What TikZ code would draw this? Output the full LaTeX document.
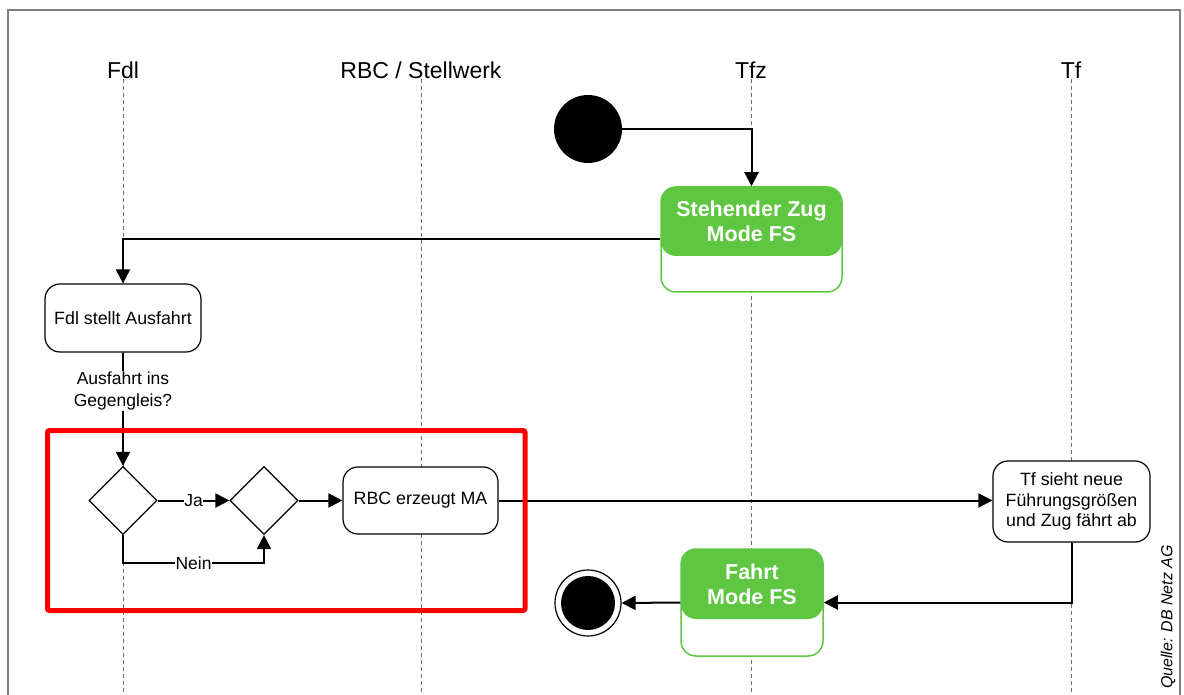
\documentclass[tikz,border=0pt]{standalone}
\usepackage{fontspec}
\setmainfont{Liberation Sans}
\usetikzlibrary{arrows.meta,shapes.geometric,calc}
\definecolor{umlgreen}{HTML}{5EC640}
\definecolor{framegray}{HTML}{7F7F7F}
\definecolor{lanegray}{HTML}{6E6E6E}
\tikzset{
  conn/.style={draw=black, line width=2pt},
  arr/.style={conn, -{Triangle[length=14pt,width=14pt]}},
  lane/.style={draw=lanegray, line width=1pt, dash pattern=on 4pt off 3pt},
  lanelbl/.style={font=\fontsize{23}{27}\selectfont, inner sep=0pt, anchor=base},
  actbox/.style={draw, line width=1.2pt, rounded corners=15pt, fill=white, align=center,
    font=\fontsize{17.8}{20.5}\selectfont, inner sep=0pt},
  decision/.style={diamond, draw, line width=1.2pt, fill=white, inner sep=0pt,
    minimum width=68pt, minimum height=68pt},
  lbl/.style={fill=white, inner sep=1pt, font=\fontsize{17.5}{21.5}\selectfont, align=center},
  statebox/.style={draw=umlgreen, line width=1.5pt, rounded corners=15pt, fill=white, inner sep=0pt},
  statetxt/.style={text=white, font=\bfseries\fontsize{21.5}{25}\selectfont, align=center, inner sep=0pt},
}
\begin{document}
\begin{tikzpicture}[x=1pt, y=-1pt]
\useasboundingbox (0,0) rectangle (1184,695);
% frame
\draw[framegray, line width=2pt] (8,705) -- (8,10) -- (1180,10) -- (1180,705);

% lanes
\node[lanelbl] (lFdl) at (123,79) {Fdl};
\node[lanelbl] (lRBC) at (421,79) {RBC / Stellwerk};
\node[lanelbl] (lTfz) at (751,79) {Tfz};
\node[lanelbl] (lTf)  at (1071,79) {Tf};
\coordinate (bFdl) at (123,695);
\coordinate (bRBC) at (421,695);
\coordinate (bTfz) at (751,695);
\coordinate (bTf)  at (1071,695);
\draw[lane] (lFdl.base) -- (bFdl);
\draw[lane] (lRBC.base) -- (bRBC);
\draw[lane] (lTfz.base) -- (bTfz);
\draw[lane] (lTf.base) -- (bTf);

% start
\node[circle, fill=black, minimum size=68pt, inner sep=0pt] (start) at (588,129) {};

% Stehender Zug
\node[statebox, minimum width=181pt, minimum height=105pt,
  path picture={\fill[umlgreen] (path picture bounding box.north west) rectangle ([yshift=36pt]path picture bounding box.south east);}]
  (stz) at (751.5,239.5) {};
\node[statetxt] (stzt) at (751.5,221) {Stehender Zug\\Mode FS};

% Fdl stellt Ausfahrt
\node[actbox, minimum width=156pt, minimum height=68pt] (fdl) at (123,318) {Fdl stellt Ausfahrt};

% decisions
\node[decision] (d1) at (123,500.5) {};
\node[decision] (d2) at (264,500.5) {};

% RBC
\node[actbox, minimum width=155pt, minimum height=67pt] (rbc) at (420.5,500.5) {RBC erzeugt MA};

% Tf
\node[actbox, minimum width=157pt, minimum height=81pt] (tf) at (1071.5,501.5) {Tf sieht neue\\Führungsgrößen\\und Zug fährt ab};

% Fahrt
\node[statebox, minimum width=142pt, minimum height=107pt,
  path picture={\fill[umlgreen] (path picture bounding box.north west) rectangle ([yshift=37pt]path picture bounding box.south east);}]
  (fahrt) at (752,602.5) {};
\node[statetxt] (fahrtt) at (752,584) {Fahrt\\Mode FS};

% end
\node[circle, draw, line width=1.2pt, fill=white, minimum size=66pt, inner sep=0pt] (end) at (588,603) {};
\node[circle, fill=black, minimum size=54pt, inner sep=0pt] (endin) at (end) {};

% connectors
\draw[arr] (start.east) -| (stz.north);
\draw[arr] (stz.west) -| (fdl.north);
\draw[arr] (fdl.south) -- (d1.north);
\node[lbl] (q) at (123,391) {Ausfahrt ins\\Gegengleis?};
\draw[arr] (d1.east) -- node[lbl, inner sep=0.5pt] {Ja} (d2.west);
\draw[arr] (d1.south) -- ++(0,28) coordinate (n1) -- node[lbl, inner sep=0.5pt] {Nein} (n1 -| d2.south) -- (d2.south);
\draw[arr] (d2.east) -- (rbc.west);
\draw[arr] (rbc.east) -- (rbc.east -| tf.west);
\draw[arr] (tf.south) |- (fahrt.east);
\draw[arr] (fahrt.west) -- (end.east);

% highlight
\draw[red, line width=5pt, rounded corners=2pt] (47.5,430.5) rectangle (525,610.5);

% source
\node[rotate=90, font=\itshape\fontsize{16}{19}\selectfont, inner sep=0pt] (src) at (1168,617) {Quelle: DB Netz AG};
\end{tikzpicture}
\end{document}
